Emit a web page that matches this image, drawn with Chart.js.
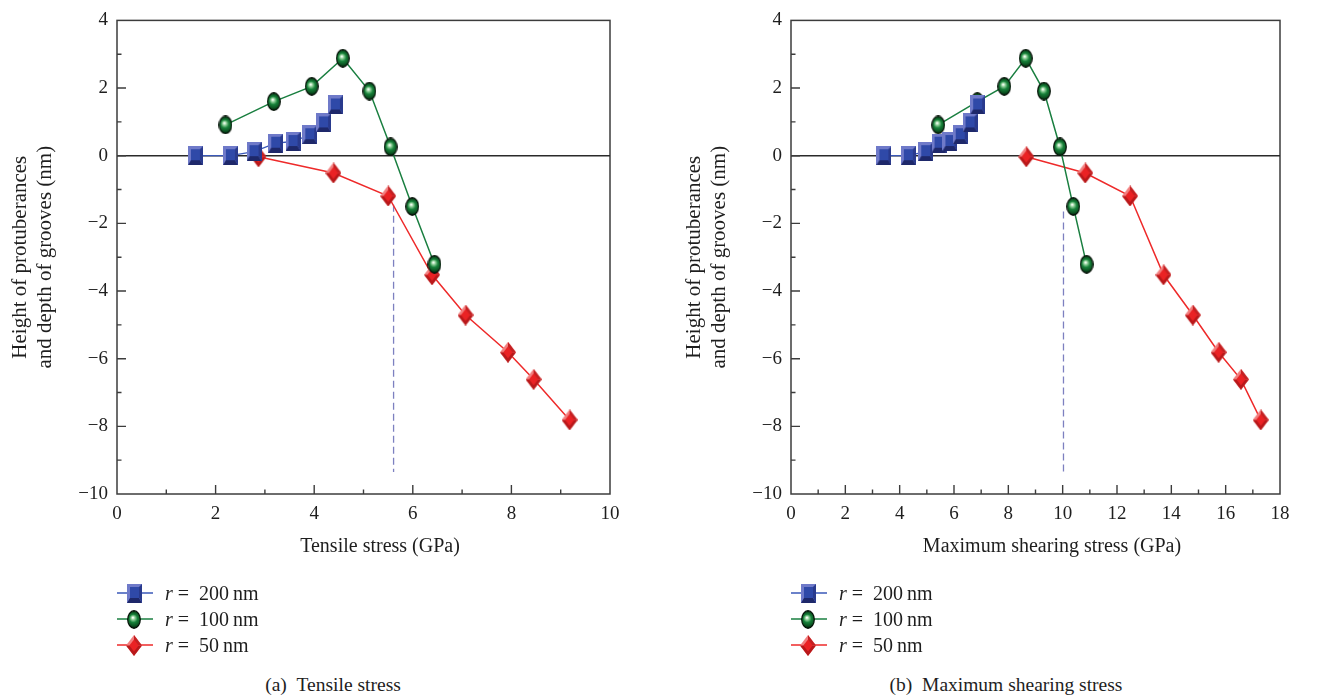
<!DOCTYPE html>
<html>
<head>
<meta charset="utf-8">
<script src="https://cdn.jsdelivr.net/npm/chart.js@4.4.1/dist/chart.umd.min.js"></script>
<style>
  body { margin: 0; background: #fff; width: 1340px; height: 697px; overflow: hidden; position: relative; font-family: 'Liberation Serif', serif; color: #1e1e1e; }
  canvas.plot { position: absolute; top: 0; }
  .xtitle { position: absolute; top: 545px; transform: translate(-50%, -50%); font-size: 20px; white-space: nowrap; }
  .legend { position: absolute; top: 580px; }
  .legend .row { display: flex; align-items: center; height: 26px; }
  .legend .row span { margin-left: 12px; font-size: 20px; white-space: nowrap; }
  .caption { position: absolute; top: 685px; transform: translate(-50%, -50%); font-size: 19.5px; white-space: nowrap; }
</style>
</head>
<body>
<canvas id="tensileChart" class="plot" width="670" height="560" style="left:0"></canvas>
<canvas id="shearChart" class="plot" width="666" height="560" style="left:674px"></canvas>

<div class="xtitle" style="left:380px">Tensile stress (GPa)</div>
<div class="xtitle" style="left:1052px">Maximum shearing stress (GPa)</div>

<div class="legend" style="left:117px">
  <div class="row"><canvas class="sym" data-kind="square" width="36" height="26"></canvas><span><i>r</i>&nbsp;=&nbsp;&nbsp;200&thinsp;nm</span></div>
  <div class="row"><canvas class="sym" data-kind="sphere" width="36" height="26"></canvas><span><i>r</i>&nbsp;=&nbsp;&nbsp;100&thinsp;nm</span></div>
  <div class="row"><canvas class="sym" data-kind="diamond" width="36" height="26"></canvas><span><i>r</i>&nbsp;=&nbsp;&nbsp;50&thinsp;nm</span></div>
</div>
<div class="legend" style="left:791px">
  <div class="row"><canvas class="sym" data-kind="square" width="36" height="26"></canvas><span><i>r</i>&nbsp;=&nbsp;&nbsp;200&thinsp;nm</span></div>
  <div class="row"><canvas class="sym" data-kind="sphere" width="36" height="26"></canvas><span><i>r</i>&nbsp;=&nbsp;&nbsp;100&thinsp;nm</span></div>
  <div class="row"><canvas class="sym" data-kind="diamond" width="36" height="26"></canvas><span><i>r</i>&nbsp;=&nbsp;&nbsp;50&thinsp;nm</span></div>
</div>

<div class="caption" style="left:333px">(a)&nbsp;&nbsp;Tensile stress</div>
<div class="caption" style="left:1006px">(b)&nbsp;&nbsp;Maximum shearing stress</div>

<script>
// Height of protuberances / depth of grooves (nm), one array per radius
const r200Height = [0, 0, 0.12, 0.37, 0.42, 0.62, 0.97, 1.50];
const r100Height = [0.91, 1.60, 2.05, 2.88, 1.91, 0.26, -1.50, -3.21];
const r50Height = [-0.03, -0.51, -1.19, -3.52, -4.71, -5.81, -6.61, -7.81];

// Tensile stress (GPa)
const r200Tensile = [1.59, 2.30, 2.78, 3.22, 3.57, 3.91, 4.19, 4.43];
const r100Tensile = [2.20, 3.18, 3.95, 4.58, 5.12, 5.55, 5.99, 6.44];
const r50Tensile = [2.87, 4.39, 5.50, 6.39, 7.07, 7.93, 8.45, 9.18];

// Maximum shearing stress (GPa)
const r200Shear = [3.42, 4.32, 4.96, 5.45, 5.85, 6.23, 6.59, 6.87];
const r100Shear = [5.42, 6.86, 7.85, 8.64, 9.31, 9.90, 10.39, 10.88];
const r50Shear = [8.66, 10.83, 12.48, 13.71, 14.79, 15.74, 16.56, 17.29];

// dashed critical-stress markers: [x, yTop, yBottom]
const tensileCritical = [5.61, -1.45, -9.35];
const shearCritical = [10.03, -1.65, -9.36];

const yTitle = ['Height of protuberances', 'and depth of grooves (nm)'];
const FONT = "'Liberation Serif', 'Times New Roman', serif";

// --- 3D-looking marker images -------------------------------------------
function makeMarker(kind) {
  const c = document.createElement('canvas');
  const g = c.getContext('2d');
  if (kind === 'square') {
    // box seen slightly from above: light top/left bevel, dark bottom band
    const w = 15, h = 19, b = 3, bb = 5;
    c.width = w; c.height = h;
    g.fillStyle = '#6f7ac9';
    g.fillRect(0, 0, w, h);
    g.fillStyle = '#1e286a';
    g.beginPath(); g.moveTo(0, h); g.lineTo(w, h); g.lineTo(w - b, h - bb); g.lineTo(b, h - bb); g.fill();
    g.fillStyle = '#293a8d';
    g.beginPath(); g.moveTo(w, 0); g.lineTo(w, h); g.lineTo(w - b, h - bb); g.lineTo(w - b, b); g.fill();
    g.fillStyle = '#2f49a8';
    g.fillRect(b, b, w - 2 * b, h - b - bb);
  } else if (kind === 'sphere') {
    const w = 14, h = 19;
    c.width = w; c.height = h;
    const grad = g.createRadialGradient(w * 0.42, h * 0.4, 0.5, w * 0.5, h * 0.5, 8.5);
    grad.addColorStop(0, '#f4fff4');
    grad.addColorStop(0.18, '#8fcf98');
    grad.addColorStop(0.45, '#17823a');
    grad.addColorStop(0.8, '#0a4f1f');
    grad.addColorStop(1, '#031a09');
    g.fillStyle = grad;
    g.beginPath(); g.ellipse(w / 2, h / 2, w / 2 - 0.7, h / 2 - 0.7, 0, 0, Math.PI * 2); g.fill();
    g.strokeStyle = '#061208'; g.lineWidth = 1.2; g.stroke();
  } else {
    const w = 16, h = 21;
    c.width = w; c.height = h;
    const cx = w / 2, cy = h / 2;
    g.fillStyle = '#f27f7f';
    g.beginPath(); g.moveTo(cx, 0); g.lineTo(w, cy); g.lineTo(cx, h); g.lineTo(0, cy); g.closePath(); g.fill();
    g.fillStyle = '#b8181a';
    g.beginPath(); g.moveTo(w, cy); g.lineTo(cx, h); g.lineTo(0, cy); g.closePath(); g.fill();
    g.fillStyle = '#c42022';
    g.beginPath(); g.moveTo(w, cy); g.lineTo(cx, 0); g.lineTo(cx, cy); g.closePath(); g.fill();
    const k = 0.58;
    g.fillStyle = '#ea2224';
    g.beginPath(); g.moveTo(cx, cy - cy * k); g.lineTo(cx + cx * k, cy); g.lineTo(cx, cy + cy * k); g.lineTo(cx - cx * k, cy); g.closePath(); g.fill();
  }
  return c;
}

const seriesStyle = {
  square: { color: '#3a58b8', width: 1.3 },
  sphere: { color: '#1a7f40', width: 1.5 },
  diamond: { color: '#ee2a2a', width: 1.5 },
};

// legend symbols: a short line with the marker on top
document.querySelectorAll('canvas.sym').forEach(cv => {
  const kind = cv.dataset.kind;
  const g = cv.getContext('2d');
  g.strokeStyle = seriesStyle[kind].color;
  g.lineWidth = seriesStyle[kind].width;
  g.beginPath(); g.moveTo(0, 13); g.lineTo(36, 13); g.stroke();
  const m = makeMarker(kind);
  g.drawImage(m, Math.round(17 - m.width / 2), Math.round(13 - m.height / 2));
});

// frame, zero line and inward tick marks
const framePlugin = {
  id: 'frame',
  beforeDatasetsDraw(chart) {
    const { ctx, chartArea: a, scales: { x, y } } = chart;
    ctx.save();
    ctx.strokeStyle = '#3c3c3c';
    ctx.lineWidth = 1.5;
    ctx.strokeRect(a.left, a.top, a.right - a.left, a.bottom - a.top);

    const y0 = y.getPixelForValue(0);
    ctx.strokeStyle = '#2a2a2a';
    ctx.beginPath(); ctx.moveTo(a.left, y0); ctx.lineTo(a.right, y0); ctx.stroke();

    ctx.strokeStyle = '#3c3c3c';
    ctx.lineWidth = 1.4;
    ctx.beginPath();
    x.ticks.forEach(t => {
      if (t.value <= x.min || t.value >= x.max) return;
      const px = x.getPixelForValue(t.value);
      const len = Math.round(t.value) % 2 === 0 ? 9 : 4.5;
      ctx.moveTo(px, a.bottom); ctx.lineTo(px, a.bottom - len);
    });
    y.ticks.forEach(t => {
      if (t.value <= y.min || t.value >= y.max) return;
      const py = y.getPixelForValue(t.value);
      const len = Math.round(t.value) % 2 === 0 ? 9 : 4.5;
      ctx.moveTo(a.left, py); ctx.lineTo(a.left + len, py);
    });
    ctx.stroke();
    ctx.restore();
  }
};

function evenLabel(v) {
  if (Math.round(v) % 2 !== 0) return '';
  return String(Math.round(v)).replace('-', '\u2212');
}

function series(xs, ys, kind) {
  return {
    data: xs.map((x, i) => ({ x: x, y: ys[i] })),
    borderColor: seriesStyle[kind].color,
    borderWidth: seriesStyle[kind].width,
    pointStyle: makeMarker(kind),
    pointRadius: 8,
    fill: false,
    tension: 0,
  };
}

function makeChart(id, xMax, xs200, xs100, xs50, critical) {
  return new Chart(document.getElementById(id), {
    type: 'line',
    data: {
      datasets: [
        series(xs200, r200Height, 'square'),
        series(xs100, r100Height, 'sphere'),
        series(xs50, r50Height, 'diamond'),
        {
          data: [{ x: critical[0], y: critical[1] }, { x: critical[0], y: critical[2] }],
          borderColor: '#7d80c0',
          borderWidth: 1.3,
          borderDash: [7, 4],
          pointRadius: 0,
        },
      ]
    },
    options: {
      responsive: false,
      animation: false,
      events: [],
      layout: { padding: { top: 17, right: 60, left: 0, bottom: 0 } },
      plugins: { legend: { display: false }, tooltip: { enabled: false } },
      scales: {
        x: {
          type: 'linear', min: 0, max: xMax,
          afterFit(s) { s.height = 66; },
          grid: { display: false, drawTicks: false },
          border: { display: false },
          ticks: { stepSize: 1, autoSkip: false, maxRotation: 0, padding: 9, color: '#1e1e1e', font: { family: FONT, size: 19 }, callback: evenLabel },
        },
        y: {
          type: 'linear', min: -10, max: 4,
          afterFit(s) { s.width = 117; },
          grid: { display: false, drawTicks: false },
          border: { display: false },
          ticks: { stepSize: 1, autoSkip: false, padding: 9, color: '#1e1e1e', font: { family: FONT, size: 19 }, callback: evenLabel },
          title: { display: true, text: yTitle, color: '#1e1e1e', font: { family: FONT, size: 21, lineHeight: 1.2 }, padding: { top: 8, bottom: 0 } },
        }
      }
    },
    plugins: [framePlugin]
  });
}

makeChart('tensileChart', 10, r200Tensile, r100Tensile, r50Tensile, tensileCritical);
makeChart('shearChart', 18, r200Shear, r100Shear, r50Shear, shearCritical);
</script>
</body>
</html>
